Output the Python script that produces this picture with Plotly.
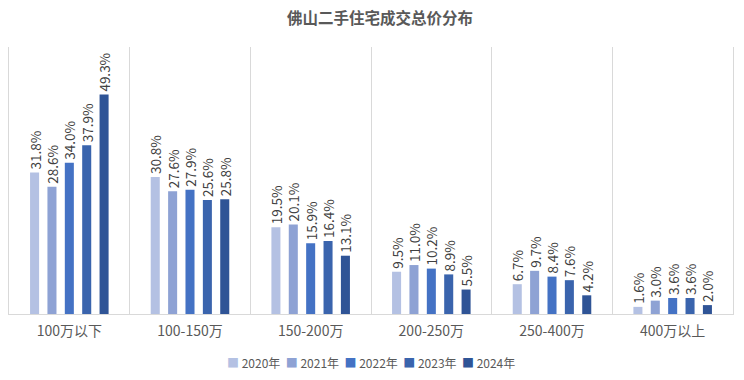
import plotly.graph_objects as go

categories = ["100万以下", "100-150万", "150-200万", "200-250万", "250-400万", "400万以上"]
years = ["2020年", "2021年", "2022年", "2023年", "2024年"]
values = {
    "2020年": [31.8, 30.8, 19.5, 9.5, 6.7, 1.6],
    "2021年": [28.6, 27.6, 20.1, 11.0, 9.7, 3.0],
    "2022年": [34.0, 27.9, 15.9, 10.2, 8.4, 3.6],
    "2023年": [37.9, 25.6, 16.4, 8.9, 7.6, 3.6],
    "2024年": [49.3, 25.8, 13.1, 5.5, 4.2, 2.0],
}
colors = ["#B4C1E3", "#8EA2D4", "#4472C4", "#3A64AD", "#2F5496"]

FONT = "Noto Sans CJK SC"

fig = go.Figure()
for y, c in zip(years, colors):
    vals = values[y]
    fig.add_trace(go.Bar(
        x=categories, y=vals, name=y,
        marker=dict(color=c, line=dict(width=0)),
        text=[f"{v:.1f}%" for v in vals],
        textposition="outside", textangle=-90,
        constraintext="none", cliponaxis=False,
        textfont=dict(family=FONT, size=13.5, color="#404040"),
        showlegend=False,
    ))

legend_text = "  ".join(
    f"<span style='color:{c}'>■</span> {y}" for y, c in zip(years, colors)
)
fig.add_annotation(
    text=legend_text, xref="paper", yref="paper", x=0.5, y=-0.18,
    xanchor="center", yanchor="middle", showarrow=False,
    font=dict(family=FONT, size=12, color="#595959"),
)

fig.update_layout(
    width=744, height=380,
    margin=dict(l=1, r=19, t=39, b=74, autoexpand=False),
    paper_bgcolor="white", plot_bgcolor="white",
    barmode="group", bargap=0.28, bargroupgap=0.48,
    title=dict(text="<b>佛山二手住宅成交总价分布</b>", x=0.5, xanchor="center",
               y=0.972, yanchor="middle",
               font=dict(family=FONT, size=15.5, color="#595959")),
    font=dict(family=FONT, color="#595959"),
    xaxis=dict(range=[-0.5, 5.5], automargin=False,
               showgrid=True, gridcolor="#D9D9D9", gridwidth=1, tickson="boundaries",
               showline=True, linecolor="#D9D9D9", linewidth=1, mirror=False,
               ticks="", tickfont=dict(family=FONT, size=14, color="#595959"),
               ticklabelstandoff=4),
    yaxis=dict(range=[0, 60], automargin=False, showticklabels=False, showgrid=False,
               zeroline=False, showline=True, mirror=True, linecolor="#D9D9D9",
               linewidth=1, ticks=""),
)

fig.write_html("out.html")
